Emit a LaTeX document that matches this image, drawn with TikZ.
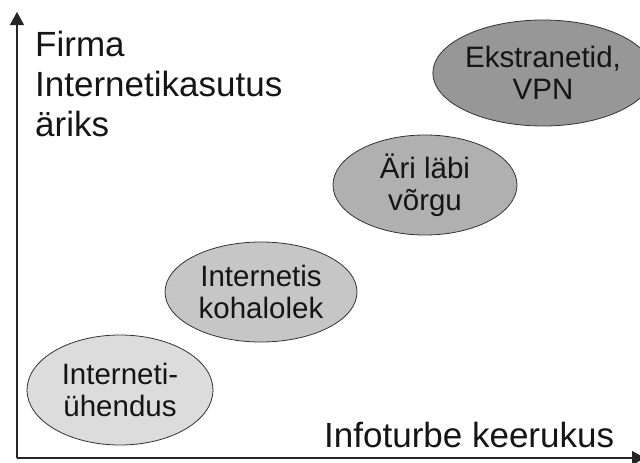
\documentclass[tikz,border=0pt]{standalone}
\usepackage{fontspec}
\setmainfont{Liberation Sans}
\usetikzlibrary{shapes.geometric,arrows.meta}
\definecolor{txt}{HTML}{151515}
\definecolor{gA}{HTML}{DCDCDC}
\definecolor{gB}{HTML}{C6C6C6}
\definecolor{gC}{HTML}{B0B0B0}
\definecolor{gD}{HTML}{979797}
\tikzset{
  stage/.style={ellipse, draw=black!80, line width=0.8pt, inner sep=0pt,
    align=center, text=txt, font=\fontsize{29.5}{32}\selectfont},
  axislabel/.style={anchor=base west, inner sep=0pt, text=txt,
    font=\fontsize{35}{40}\selectfont},
  axisline/.style={line width=1.2pt, draw=black!85,
    -{Triangle[length=13pt,width=14pt]}}
}
\begin{document}
\begin{tikzpicture}[x=1pt,y=-1pt]
\useasboundingbox (0,0) rectangle (640,463);
\coordinate (o) at (17,458);
\coordinate (ytop) at (17,12);
\coordinate (xend) at (645,458);
\draw[axisline] (o) -- (ytop);
\draw[axisline] (o) -- (xend);
\node[stage, fill=gA, minimum width=186pt, minimum height=110pt] (s1) at (120,390) {Interneti-\\ühendus};
\node[stage, fill=gB, minimum width=192pt, minimum height=100pt] (s2) at (261,292) {Internetis\\kohalolek};
\node[stage, fill=gC, minimum width=184pt, minimum height=100pt] (s3) at (425,185) {Äri läbi\\võrgu};
\node[stage, fill=gD, minimum width=170pt, minimum height=106pt] (s4) at (543,73) {Ekstranetid,\\VPN};
\node[axislabel] (l1) at (35,56) {Firma};
\node[axislabel] (l2) at (35,96) {Internetikasutus};
\node[axislabel] (l3) at (35,136) {äriks};
\node[axislabel] (lx) at (324,447) {Infoturbe keerukus};
\end{tikzpicture}
\end{document}
